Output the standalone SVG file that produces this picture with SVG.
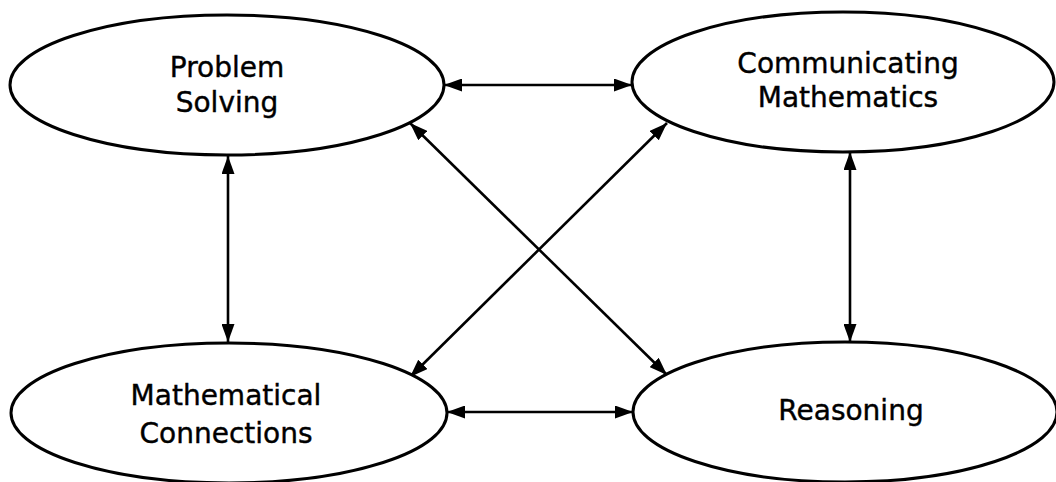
<svg xmlns="http://www.w3.org/2000/svg" width="1056" height="482" viewBox="0 0 1056 482">
<style>
.node{fill:#fff;stroke:#000;stroke-width:3}
.lbl{font-family:"DejaVu Sans",sans-serif;font-size:28px;fill:#000;text-anchor:middle;stroke:#000;stroke-width:0.4}
.edge{stroke:#000;stroke-width:2.6;fill:none;marker-start:url(#ah);marker-end:url(#ah)}
</style>
<defs>
<marker id="ah" viewBox="0 0 18 13" refX="18" refY="6.5" markerWidth="18" markerHeight="13" markerUnits="userSpaceOnUse" orient="auto-start-reverse">
<path d="M0,0 L18,6.5 L0,13 Z" fill="#000"/>
</marker>
</defs>
<rect width="1056" height="482" fill="#fff"/>
<g id="connectors">
<line class="edge" x1="444" y1="85" x2="632" y2="85"/>
<line class="edge" x1="228" y1="156" x2="228" y2="342"/>
<line class="edge" x1="850" y1="152" x2="850" y2="342"/>
<line class="edge" x1="447" y1="412" x2="633" y2="412"/>
<line class="edge" x1="410" y1="123" x2="667" y2="375"/>
<line class="edge" x1="667" y1="123" x2="410" y2="377"/>
</g>
<g id="problem-solving">
<ellipse class="node" cx="227" cy="85" rx="217" ry="70"/>
<text class="lbl" x="227" y="77">Problem</text>
<text class="lbl" x="227" y="112">Solving</text>
</g>
<g id="communicating-mathematics">
<ellipse class="node" cx="843" cy="82" rx="211" ry="70"/>
<text class="lbl" x="848" y="73">Communicating</text>
<text class="lbl" x="848" y="107">Mathematics</text>
</g>
<g id="mathematical-connections">
<ellipse class="node" cx="229" cy="413" rx="218" ry="70"/>
<text class="lbl" x="226" y="405">Mathematical</text>
<text class="lbl" x="226" y="443">Connections</text>
</g>
<g id="reasoning">
<ellipse class="node" cx="845" cy="412" rx="212" ry="70"/>
<text class="lbl" x="851" y="420">Reasoning</text>
</g>
</svg>
